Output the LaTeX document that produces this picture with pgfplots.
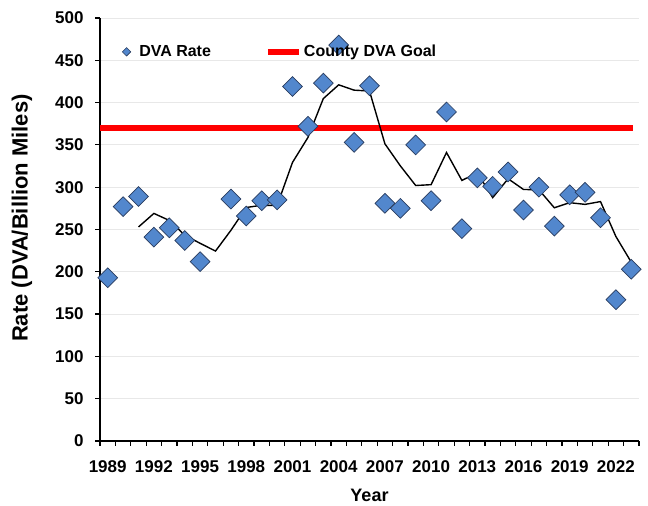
\documentclass[border=0pt]{standalone}
\usepackage{fontspec}
\setmainfont{Liberation Sans}
\usepackage{pgfplots}
\pgfplotsset{compat=1.18}
\definecolor{dvablue}{RGB}{82,135,205}
\definecolor{dvaedge}{RGB}{40,60,95}
\definecolor{goalred}{RGB}{255,0,0}
\begin{document}
\begin{tikzpicture}
\begin{axis}[
  scale only axis,
  width=539pt, height=423pt,
  xmin=1988.5, xmax=2023.5,
  ymin=0, ymax=500,
  axis lines*=left,
  axis line style={-, line width=1.4pt, black},
  ytick={0,50,...,500},
  xtick={1988.5,1989.5,...,2023.5},
  xticklabels={},
  extra x ticks={1989,1992,...,2022},
  extra x tick style={major tick length=0pt, grid=none},
  extra x tick labels={1989,1992,1995,1998,2001,2004,2007,2010,2013,2016,2019,2022},
  tick align=outside,
  major tick length=5pt,
  tick style={black, line width=1.2pt},
  ymajorgrids,
  grid style={gray!18, line width=0.8pt},
  /pgf/number format/assume math mode=true,
  tick label style={font=\bfseries\fontsize{17}{17}\selectfont},
  xticklabel style={yshift=-16pt},
  yticklabel style={xshift=-8pt},
  ylabel={Rate (DVA/Billion Miles)},
  xlabel={Year},
  ylabel style={font=\bfseries\fontsize{22}{22}\selectfont, at={(axis description cs:-0.145,0.527)}, anchor=center},
  xlabel style={font=\bfseries\fontsize{18}{18}\selectfont, at={(axis description cs:0.5,-0.128)}, anchor=center},
  legend columns=2,
  legend style={draw=none, fill=none, at={(axis description cs:0.035,0.92)}, anchor=west,
    font=\bfseries\fontsize{16}{16}\selectfont,
    /tikz/every even column/.append style={column sep=52pt}},
  clip=false,
]
\addlegendimage{legend image code/.code={\draw[draw=dvaedge, fill=dvablue, line width=0.6pt] (0pt,4.2pt) -- (4.2pt,0pt) -- (0pt,-4.2pt) -- (-4.2pt,0pt) -- cycle; \path (10.5pt,0pt);}}
\addlegendentry{DVA Rate}
\addlegendimage{legend image code/.code={\draw[goalred, line width=6pt] (0pt,0pt) -- (31pt,0pt);}}
\addlegendentry{County DVA Goal}
\addplot[goalred, line width=6pt, forget plot] coordinates {(1988.5,370) (2023.1,370)};
\addplot[black, line width=1.4pt, forget plot] coordinates {
(1991,253) (1992,269) (1993,260.7) (1994,243.3) (1995,233.7) (1996,224.5) (1997,249)
(1998,276) (1999,278.7) (2000,278.3) (2001,329.3) (2002,358.7) (2003,404.7) (2004,421)
(2005,414.7) (2006,413.7) (2007,351.3) (2008,325.3) (2009,302) (2010,303) (2011,341)
(2012,308) (2013,317) (2014,287.7) (2015,310) (2016,297.3) (2017,297) (2018,275.7)
(2019,281.7) (2020,279.7) (2021,283) (2022,241.7) (2023,211.3)};
\addplot[only marks, mark=square*, mark size=7pt, mark options={rotate=45, fill=dvablue, draw=dvaedge, line width=0.7pt}, forget plot] coordinates {
(1989,193) (1990,277) (1991,289) (1992,241) (1993,252) (1994,237) (1995,212)
(1997,286) (1998,266) (1999,284) (2000,285) (2001,419) (2002,372) (2003,423)
(2004,468) (2005,353) (2006,420) (2007,281) (2008,275) (2009,350) (2010,284)
(2011,389) (2012,251) (2013,311) (2014,301) (2015,318) (2016,273) (2017,300)
(2018,254) (2019,291) (2020,294) (2021,264) (2022,167) (2023,203)};
\end{axis}
\path (current axis.south west) +(-100pt,-65pt) (current axis.north east) +(9pt,18pt);
\end{tikzpicture}
\end{document}
